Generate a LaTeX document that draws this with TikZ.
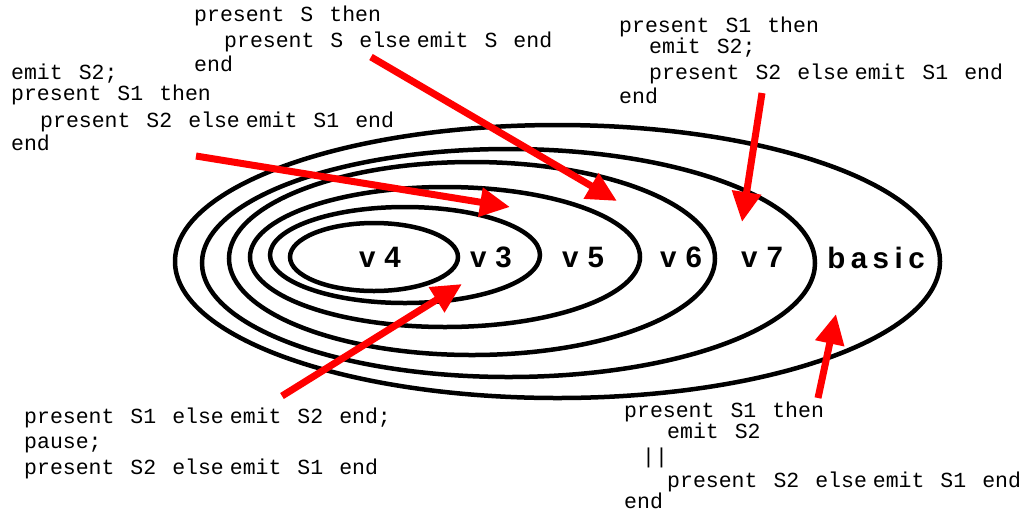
\documentclass[tikz,border=0pt]{standalone}
\usepackage{fontspec}
\usetikzlibrary{arrows.meta}
\newfontfamily\cmono{Liberation Mono}
\newfontfamily\lblfont{Liberation Sans}
\newcommand\ee{\hspace{6pt}}
\newcommand\lsp{\kern9pt\relax}
\tikzset{
  codeline/.style={font={\cmono\fontsize{21.5}{24}\selectfont\spaceskip=16pt\relax}, anchor=base west, inner sep=0pt},
  ring/.style={line width=4.5pt, draw=black},
  lbl/.style={font={\lblfont\bfseries\fontsize{29.5}{32}\selectfont}, anchor=base, inner sep=0pt},
  redarrow/.style={draw=red, line width=7pt, -{Triangle[length=30pt,width=28pt]}}
}
\begin{document}
\begin{tikzpicture}[x=1pt,y=-1pt]
\useasboundingbox (0,0) rectangle (1022,515);
% nested ellipses
\draw[ring] (557.5,261.5) ellipse [x radius=382.5pt, y radius=136.5pt];
\draw[ring] (508.5,263) ellipse [x radius=306.5pt, y radius=114pt];
\draw[ring] (472,258.5) ellipse [x radius=243pt, y radius=96.5pt];
\draw[ring] (445,257) ellipse [x radius=195pt, y radius=70pt];
\draw[ring] (405,255) ellipse [x radius=135pt, y radius=48pt];
\draw[ring] (374,257) ellipse [x radius=84pt, y radius=34pt];
% labels
\node[lbl] (v4) at (380,267) {v\lsp 4};
\node[lbl] (v3) at (491,267) {v\lsp 3};
\node[lbl] (v5) at (583,267) {v\lsp 5};
\node[lbl] (v6) at (681,267) {v\lsp 6};
\node[lbl] (v7) at (762,267) {v\lsp 7};
\node[lbl] (basic) at (876,268) {b\kern5.5pt a\kern5.5pt s\kern5.5pt i\kern5.5pt c};
% code block A
\node[codeline] (a1) at (194,21) {present S then};
\node[codeline] (a2) at (224,47) {present S else\ee emit S end};
\node[codeline] (a3) at (194,71) {end};
% code block B
\node[codeline] (b1) at (11,79) {emit S2;};
\node[codeline] (b2) at (11,100) {present S1 then};
\node[codeline] (b3) at (40,127) {present S2 else\ee emit S1 end};
\node[codeline] (b4) at (11,150) {end};
% code block C
\node[codeline] (c1) at (619,32) {present S1 then};
\node[codeline] (c2) at (649,53) {emit S2;};
\node[codeline] (c3) at (649,79) {present S2 else\ee emit S1 end};
\node[codeline] (c4) at (619,103) {end};
% code block D
\node[codeline] (d1) at (24,423) {present S1 else\ee emit S2 end;};
\node[codeline] (d2) at (24,448) {pause;};
\node[codeline] (d3) at (24,474) {present S2 else\ee emit S1 end};
% code block E
\node[codeline] (e1) at (624,417) {present S1 then};
\node[codeline] (e2) at (667,438) {emit S2};
\node[codeline] (e3) at (642,463) {||};
\node[codeline] (e4) at (667,487) {present S2 else\ee emit S1 end};
\node[codeline] (e5) at (624,508) {end};
% arrow ends
\coordinate (t1) at (196,156); \coordinate (h1) at (510,207);
\coordinate (t2) at (371,57);  \coordinate (h2) at (617,201);
\coordinate (t3) at (762,93);  \coordinate (h3) at (742,222);
\coordinate (t4) at (282,396); \coordinate (h4) at (462,284);
\coordinate (t5) at (818,398); \coordinate (h5) at (836,314);
\draw[redarrow] (t1) -- (h1);
\draw[redarrow] (t2) -- (h2);
\draw[redarrow] (t3) -- (h3);
\draw[redarrow] (t4) -- (h4);
\draw[redarrow] (t5) -- (h5);
\end{tikzpicture}
\end{document}
